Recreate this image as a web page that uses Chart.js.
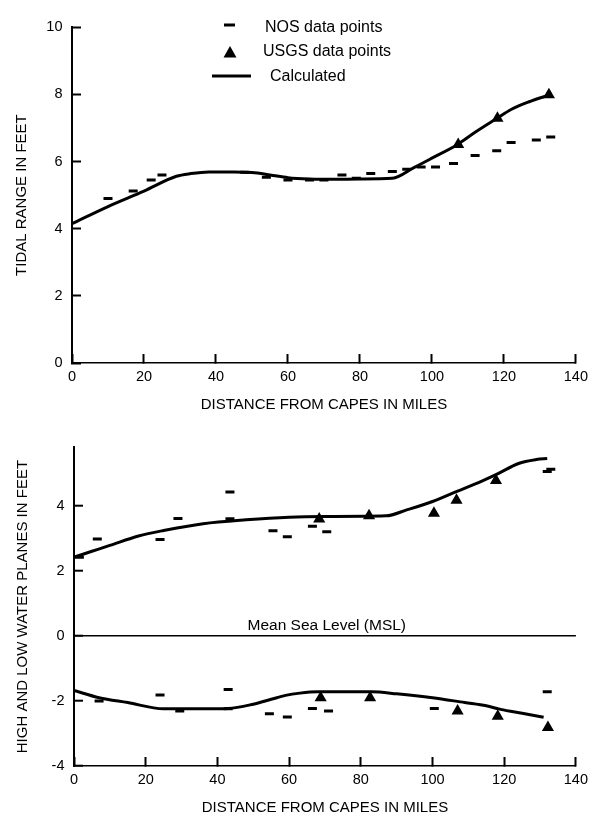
<!DOCTYPE html>
<html>
<head>
<meta charset="utf-8">
<title>Tidal range and water planes</title>
<script src="https://cdn.jsdelivr.net/npm/chart.js@4.4.1/dist/chart.umd.min.js"></script>
<style>
  body { margin: 0; background: #fff; }
  .box { position: relative; width: 602px; }
  #range-box { height: 420px; }
  #planes-box { height: 397px; }
</style>
</head>
<body>
<div class="box" id="range-box"><canvas id="range-canvas"></canvas></div>
<div class="box" id="planes-box"><canvas id="planes-canvas"></canvas></div>
<script>
"use strict";

//-------------------
//- TIDAL RANGE     -
//-------------------
var rangeCalcMiles = [0, 10, 20, 29, 33, 38, 45, 50, 55, 60, 66, 72, 80, 89, 95, 100, 107, 112, 118, 122, 127, 132.5];
var rangeCalcFeet = [4.15, 4.66, 5.12, 5.56, 5.64, 5.69, 5.69, 5.67, 5.6, 5.52, 5.48, 5.47, 5.48, 5.5, 5.82, 6.1, 6.5, 6.87, 7.28, 7.55, 7.78, 7.98];

var rangeNosMiles = [10, 17, 22, 25, 48, 54, 60, 66, 70, 75, 79, 83, 89, 93, 97, 101, 106, 112, 118, 122, 129, 133];
var rangeNosFeet = [4.9, 5.12, 5.45, 5.6, 5.68, 5.53, 5.45, 5.45, 5.45, 5.6, 5.5, 5.64, 5.7, 5.77, 5.84, 5.84, 5.94, 6.18, 6.32, 6.57, 6.64, 6.73];

var rangeUsgsMiles = [107.3, 118.2, 132.5];
var rangeUsgsFeet = [6.51, 7.29, 7.99];

//-------------------------------
//- HIGH AND LOW WATER PLANES   -
//-------------------------------
var highCalcMiles = [0, 5, 10, 18, 25, 36, 48, 60, 70, 87, 93, 100, 107, 113, 118, 124, 129, 132];
var highCalcFeet = [2.42, 2.6, 2.78, 3.07, 3.24, 3.45, 3.57, 3.65, 3.67, 3.69, 3.88, 4.13, 4.45, 4.72, 4.97, 5.3, 5.42, 5.45];

var lowCalcMiles = [0, 7, 15, 25, 35, 43, 50, 55, 59, 63, 68, 75, 83, 90, 100, 109, 115, 119, 125, 131];
var lowCalcFeet = [-1.68, -1.9, -2.05, -2.24, -2.24, -2.23, -2.1, -1.95, -1.83, -1.76, -1.72, -1.72, -1.72, -1.78, -1.9, -2.05, -2.15, -2.26, -2.38, -2.5];

var highNosMiles = [1.5, 6.5, 24, 29, 43.5, 43.5, 55.5, 59.5, 66.5, 70.5, 132, 133];
var highNosFeet = [2.42, 2.98, 2.96, 3.61, 4.42, 3.6, 3.23, 3.05, 3.37, 3.2, 5.05, 5.12];

var lowNosMiles = [7, 24, 29.5, 43, 43, 54.5, 59.5, 66.5, 71, 100.5, 132];
var lowNosFeet = [-2.0, -1.82, -2.31, -1.65, -2.24, -2.39, -2.49, -2.23, -2.31, -2.23, -1.72];

var highUsgsMiles = [68.4, 82.3, 100.4, 106.7, 117.7];
var highUsgsFeet = [3.59, 3.69, 3.77, 4.17, 4.78];

var lowUsgsMiles = [68.8, 82.6, 107, 118.2, 132.2];
var lowUsgsFeet = [-1.9, -1.9, -2.31, -2.47, -2.82];

// tick labels
var mileTicks = [0, 20, 40, 60, 80, 100, 120, 140];
var rangeTicks = [0, 2, 4, 6, 8, 10];
var planeTicks = [-4, -2, 0, 2, 4];

Chart.defaults.font.family = "'Liberation Sans', Arial, Helvetica, sans-serif";
Chart.defaults.color = "#000";

function points(xs, ys) {
  return xs.map(function (x, i) {
    return { x: x, y: ys[i] };
  });
}

function calcLine(label, xs, ys) {
  return {
    label: label,
    data: points(xs, ys),
    showLine: true,
    fill: false,
    borderColor: "#000",
    borderWidth: 3,
    pointRadius: 0,
    cubicInterpolationMode: "monotone",
  };
}

function nosDashes(label, xs, ys) {
  return {
    label: label,
    data: points(xs, ys),
    showLine: false,
    pointStyle: "line",
    pointRadius: 4.5,
    pointBorderWidth: 3,
    pointBorderColor: "#000",
    pointBackgroundColor: "#000",
  };
}

function usgsTriangles(label, xs, ys) {
  return {
    label: label,
    data: points(xs, ys),
    showLine: false,
    pointStyle: "triangle",
    pointRadius: 7,
    pointBorderWidth: 0,
    pointBackgroundColor: "#000",
    pointBorderColor: "#000",
  };
}

function fixedTicks(values) {
  return function (axis) {
    axis.ticks = values.map(function (v) { return { value: v }; });
  };
}

function distanceAxis(height, titleBottom) {
  return {
    type: "linear",
    min: 0,
    max: 140,
    afterBuildTicks: fixedTicks(mileTicks),
    afterFit: function (scale) { scale.height = height; },
    border: { color: "#000", width: 1.6 },
    grid: { drawOnChartArea: false, tickLength: -9, tickWidth: 2, tickColor: "#000" },
    ticks: { padding: 14, font: { size: 14.5 }, color: "#000" },
    title: {
      display: true,
      text: "DISTANCE FROM CAPES IN MILES",
      font: { size: 15 },
      color: "#000",
      padding: { top: 0, bottom: titleBottom },
    },
  };
}

// legend drawn at the top of the range panel
var rangeLegend = {
  id: "rangeLegend",
  afterDraw: function (chart) {
    var ctx = chart.ctx;
    ctx.save();
    ctx.strokeStyle = "#000";
    ctx.fillStyle = "#000";
    ctx.lineWidth = 3;
    ctx.beginPath();
    ctx.moveTo(224, 25);
    ctx.lineTo(235, 25);
    ctx.moveTo(212, 76);
    ctx.lineTo(251, 76);
    ctx.stroke();
    ctx.beginPath();
    ctx.moveTo(230, 46);
    ctx.lineTo(236.5, 57.5);
    ctx.lineTo(223.5, 57.5);
    ctx.closePath();
    ctx.fill();
    ctx.font = "16px 'Liberation Sans', Arial, sans-serif";
    ctx.textAlign = "left";
    ctx.textBaseline = "middle";
    ctx.fillText("NOS data points", 265, 28);
    ctx.fillText("USGS data points", 263, 52);
    ctx.fillText("Calculated", 270, 77);
    ctx.restore();
  },
};

// label over the zero line of the planes panel
var mslLabel = {
  id: "mslLabel",
  afterDraw: function (chart) {
    var ctx = chart.ctx;
    var zero = chart.scales.y.getPixelForValue(0);
    var mid = chart.scales.x.getPixelForValue(70.5);
    ctx.save();
    ctx.fillStyle = "#000";
    ctx.font = "15.5px 'Liberation Sans', Arial, sans-serif";
    ctx.textAlign = "center";
    ctx.textBaseline = "alphabetic";
    ctx.fillText("Mean Sea Level (MSL)", mid, zero - 6);
    ctx.restore();
  },
};

var rangeCanvas = document.getElementById("range-canvas");

var rangeChart = new Chart(rangeCanvas, {
  type: "scatter",
  data: {
    datasets: [
      calcLine("Calculated", rangeCalcMiles, rangeCalcFeet),
      usgsTriangles("USGS data points", rangeUsgsMiles, rangeUsgsFeet),
      nosDashes("NOS data points", rangeNosMiles, rangeNosFeet),
    ],
  },
  options: {
    animation: false,
    responsive: true,
    maintainAspectRatio: false,
    events: [],
    layout: { padding: { top: 21, right: 17, left: 0, bottom: 0 } },
    plugins: { legend: { display: false }, tooltip: { enabled: false } },
    scales: {
      x: distanceAxis(57, 6),
      y: {
        type: "linear",
        min: 0,
        max: 10,
        afterBuildTicks: fixedTicks(rangeTicks),
        afterFit: function (scale) { scale.width = 72; },
        border: { color: "#000", width: 2 },
        grid: { drawOnChartArea: false, tickLength: -9, tickWidth: 2, tickColor: "#000" },
        ticks: { padding: 18.5, font: { size: 14.5 }, color: "#000" },
        title: {
          display: true,
          text: "TIDAL RANGE IN FEET",
          font: { size: 15 },
          color: "#000",
          padding: { top: 13, bottom: 0 },
        },
      },
    },
  },
  plugins: [rangeLegend],
});

var planesCanvas = document.getElementById("planes-canvas");

var planesChart = new Chart(planesCanvas, {
  type: "scatter",
  data: {
    datasets: [
      calcLine("Calculated high", highCalcMiles, highCalcFeet),
      calcLine("Calculated low", lowCalcMiles, lowCalcFeet),
      usgsTriangles("USGS high", highUsgsMiles, highUsgsFeet),
      usgsTriangles("USGS low", lowUsgsMiles, lowUsgsFeet),
      nosDashes("NOS high", highNosMiles, highNosFeet),
      nosDashes("NOS low", lowNosMiles, lowNosFeet),
    ],
  },
  options: {
    animation: false,
    responsive: true,
    maintainAspectRatio: false,
    events: [],
    layout: { padding: { top: 17, right: 15, left: 0, bottom: 0 } },
    plugins: { legend: { display: false }, tooltip: { enabled: false } },
    scales: {
      x: distanceAxis(51, 0),
      y: {
        type: "linear",
        min: -4,
        max: 5.8,
        afterBuildTicks: fixedTicks(planeTicks),
        afterFit: function (scale) { scale.width = 74; },
        border: { color: "#000", width: 2 },
        grid: {
          drawOnChartArea: true,
          color: function (ctx) {
            return ctx.tick && ctx.tick.value === 0 ? "#000" : "rgba(0,0,0,0)";
          },
          lineWidth: 1.4,
          tickLength: -9,
          tickWidth: 2,
          tickColor: "#000",
        },
        ticks: { padding: 18.5, font: { size: 14.5 }, color: "#000" },
        title: {
          display: true,
          text: "HIGH AND LOW WATER PLANES IN FEET",
          font: { size: 15 },
          color: "#000",
          padding: { top: 14, bottom: 0 },
        },
      },
    },
  },
  plugins: [mslLabel],
});
</script>
</body>
</html>
